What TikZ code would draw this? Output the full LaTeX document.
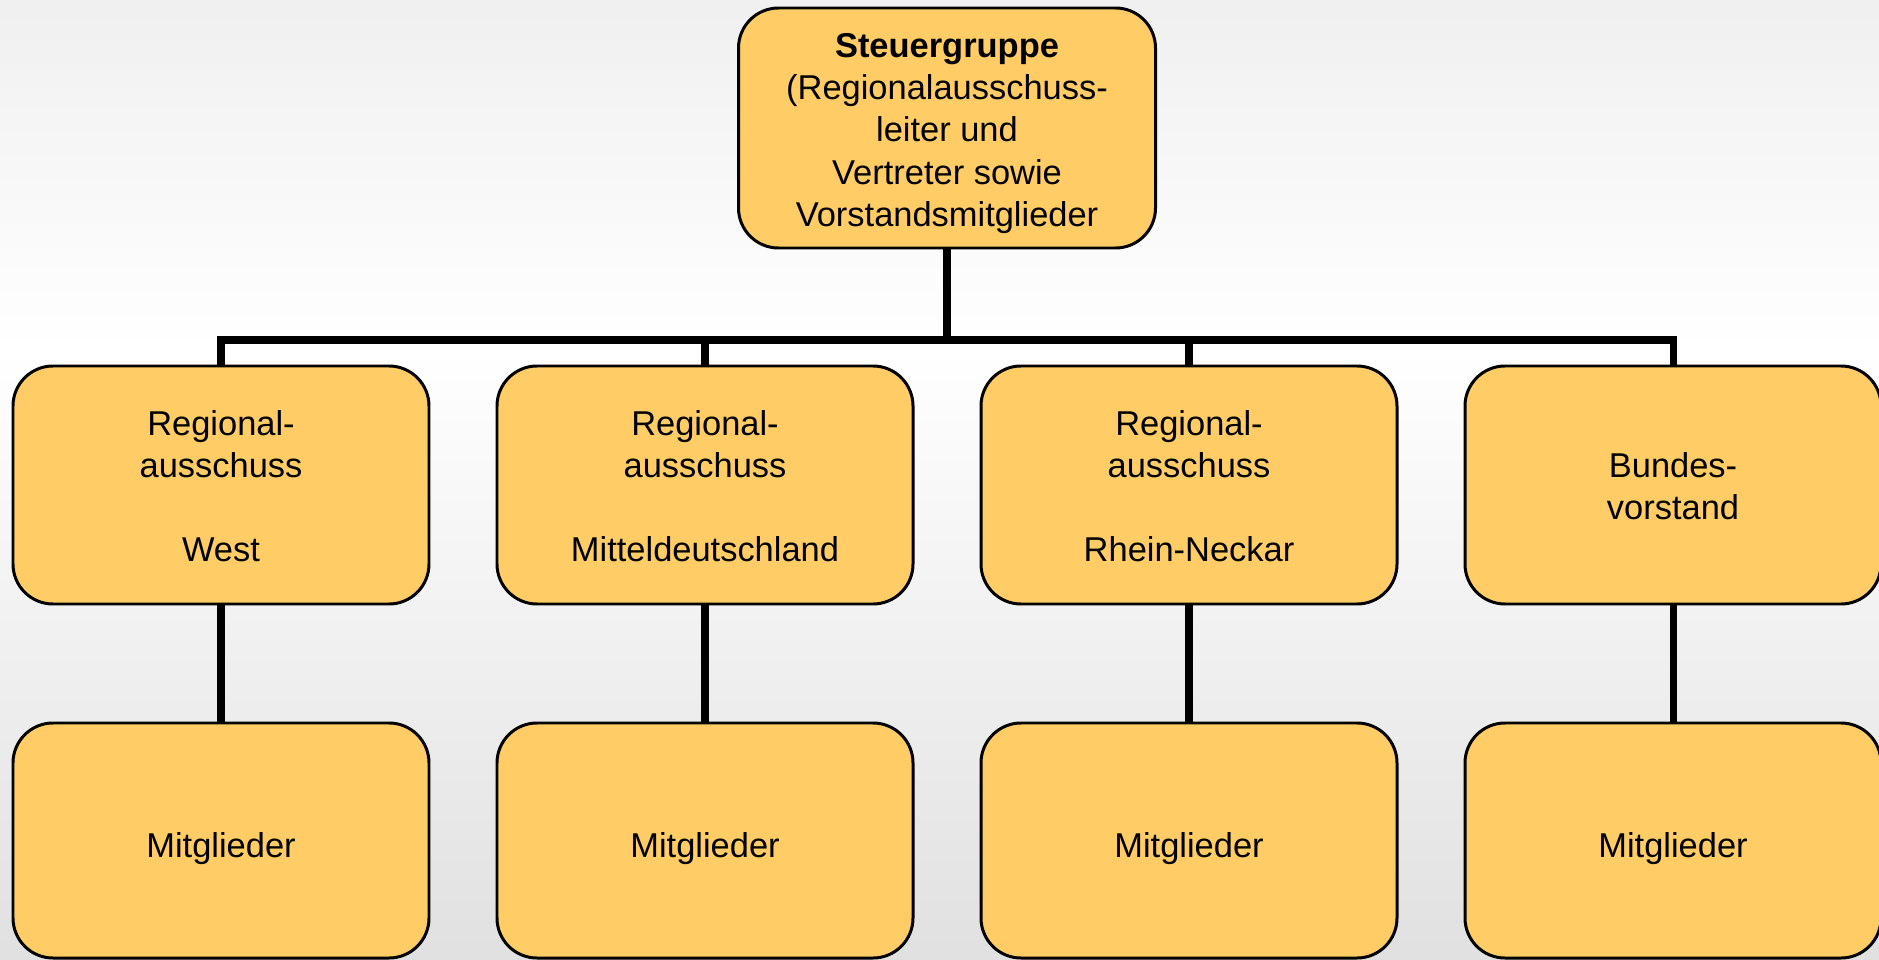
\documentclass[tikz,border=0pt]{standalone}
\usepackage{fontspec}
\setmainfont{Liberation Sans}
\definecolor{boxfill}{RGB}{255,204,102}
\begin{document}
\begin{tikzpicture}[
box_style/.style={rectangle,rounded corners=0.8cm,draw=black,line width=1.7pt,fill=boxfill,
  minimum width=8.32cm,minimum height=4.76cm,inner sep=0pt,align=center,
  font=\fontsize{19.6}{24}\selectfont},
head_style/.style={box_style,minimum width=8.34cm,minimum height=4.8cm},
member_style/.style={box_style,minimum height=4.7cm,
  execute at begin node={\rule{0pt}{23.3pt}}},
link_style/.style={draw=black,line width=4pt}]
% background
\shade[top color=gray!12,bottom color=white] (0,0) rectangle (37.58,-7);
\shade[top color=white,bottom color=gray!24] (0,-7) rectangle (37.58,-19.2);
\useasboundingbox (0,0) rectangle (37.58,-19.2);

\node[head_style] (steuer) at (18.94,-2.56) {\rule{0pt}{20pt}\textbf{Steuergruppe}\\(Regionalausschuss-\\leiter und\ \\Vertreter sowie\\Vorstandsmitglieder};

\node[box_style] (west) at (4.42,-9.70) {\rule{0pt}{15.4pt}Regional-\\ausschuss\\[24pt]West};
\node[box_style] (mitte) at (14.10,-9.70) {\rule{0pt}{15.4pt}Regional-\\ausschuss\\[24pt]Mitteldeutschland};
\node[box_style] (rhein) at (23.78,-9.70) {\rule{0pt}{15.4pt}Regional-\\ausschuss\\[24pt]Rhein-Neckar};
\node[box_style] (bund) at (33.46,-9.70) {\rule{0pt}{15.4pt}Bundes-\\vorstand};

\node[member_style] (mwest) at (4.42,-16.81) {Mitglieder};
\node[member_style] (mmitte) at (14.10,-16.81) {Mitglieder};
\node[member_style] (mrhein) at (23.78,-16.81) {Mitglieder};
\node[member_style] (mbund) at (33.46,-16.81) {Mitglieder};

\coordinate (bus) at (18.94,-6.8);

\draw[link_style] (steuer.south) -- (bus);
\draw[link_style] (west.north) |- (bus);
\draw[link_style] (mitte.north) |- (bus);
\draw[link_style] (rhein.north) |- (bus);
\draw[link_style] (bund.north) |- (bus);

\draw[link_style] (west) -- (mwest);
\draw[link_style] (mitte) -- (mmitte);
\draw[link_style] (rhein) -- (mrhein);
\draw[link_style] (bund) -- (mbund);
\end{tikzpicture}
\end{document}
